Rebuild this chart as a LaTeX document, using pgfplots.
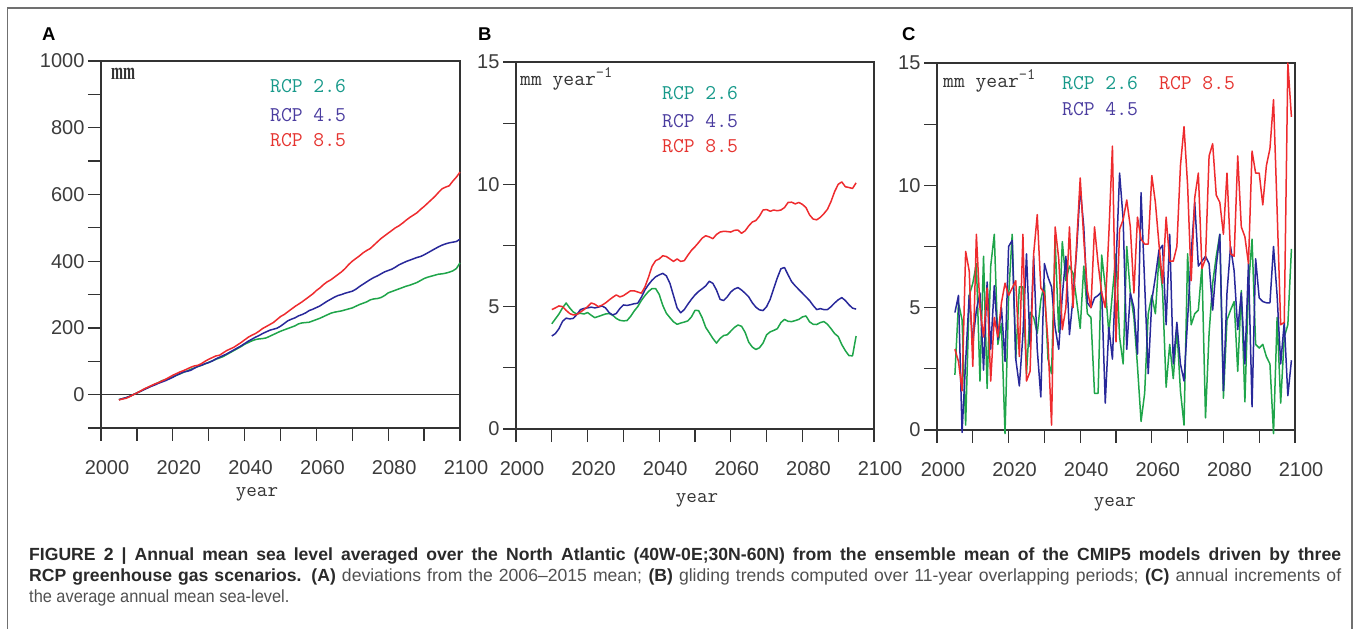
\documentclass[border=0pt]{standalone}
\usepackage{fontspec}
\setmainfont{Liberation Sans}
\newfontfamily\serifmm{Liberation Serif}
\usepackage{pgfplots}
\pgfplotsset{compat=1.18}

\definecolor{cgreen}{HTML}{1FA54A}
\definecolor{cblue}{HTML}{28289A}
\definecolor{cred}{HTML}{EE2B2E}
\definecolor{tgreen}{HTML}{17998A}
\definecolor{tblue}{HTML}{4A3C9F}
\definecolor{tred}{HTML}{E5332F}
\definecolor{axgray}{HTML}{333333}
\definecolor{tickgray}{HTML}{3C3C3C}
\definecolor{framegray}{HTML}{707070}
\definecolor{capbold}{HTML}{2A2A2A}
\definecolor{capreg}{HTML}{505050}

% monospaced labels, a little heavier than plain Latin Modern Mono
\newcommand{\monolab}[1]{\ttfamily\fontsize{#1}{#1}\selectfont\addfontfeatures{FakeBold=0.7}}

\pgfplotsset{
  panel/.style={
    scale only axis, width=358pt, height=367pt, anchor=south west,
    xmin=2000, xmax=2100,
    xtick={2000,2020,...,2100}, minor xtick={2010,2030,...,2090},
    tick align=outside, xtick pos=bottom, ytick pos=left,
    major tick length=13pt, minor tick length=13pt,
    every tick/.style={draw=axgray, line width=1.3pt},
    axis line style={draw=axgray, line width=1.3pt},
    ticklabel style={font=\fontsize{20}{20}\selectfont, text=tickgray},
    /pgf/number format/assume math mode=true,
    /pgf/number format/1000 sep={},
    xticklabel style={xshift=6pt, yshift=-16pt},
    xlabel={year},
    xlabel style={font=\monolab{20.5}, text=axgray, anchor=base},
    clip=false,
    every axis plot/.append style={line width=1.5pt, line join=round},
  },
}
\tikzset{rcp/.style={anchor=base west, inner sep=0pt, font=\monolab{21}}}
\newcommand{\perYear}{mm year\raisebox{8pt}{\fontsize{16}{16}\selectfont -1}}

\begin{document}
\begin{tikzpicture}
\useasboundingbox (0pt,0pt) rectangle (1358pt,629pt);
\draw[framegray, line width=1.2pt] (7.5pt,-2pt) -- (7.5pt,621pt) -- (1352pt,621pt) -- (1352pt,-2pt);

% ---------------- A: sea level deviation
\begin{axis}[panel, at={(101pt,201pt)}, width=359pt,
    ymin=-100, ymax=1000,
    ytick={0,200,...,1000}, minor ytick={-100,100,...,900},
    xlabel style={at={(axis description cs:0.4345,-0.188)}}]
\addplot[axgray, line width=1.1pt] coordinates {(2000,0) (2100,0)};
\addplot[cgreen] coordinates {
(2005,-15)(2006,-12)(2007,-9)(2008,-5)(2009,0)(2010,5)(2011,10)(2012,16)(2013,21)(2014,26)
(2015,31)(2016,36)(2017,42)(2018,45)(2019,49)(2020,53)(2021,58)(2022,62)(2023,67)(2024,71)
(2025,76)(2026,80)(2027,84)(2028,88)(2029,92)(2030,97)(2031,101)(2032,106)(2033,110)(2034,114)
(2035,120)(2036,126)(2037,132)(2038,138)(2039,144)(2040,151)(2041,156)(2042,161)(2043,165)(2044,167)
(2045,168)(2046,170)(2047,175)(2048,180)(2049,185)(2050,190)(2051,194)(2052,198)(2053,202)(2054,206)
(2055,212)(2056,215)(2057,216)(2058,217)(2059,221)(2060,225)(2061,229)(2062,234)(2063,239)(2064,244)
(2065,247)(2066,249)(2067,251)(2068,254)(2069,257)(2070,260)(2071,265)(2072,270)(2073,274)(2074,278)
(2075,284)(2076,287)(2077,288)(2078,291)(2079,297)(2080,305)(2081,309)(2082,313)(2083,317)(2084,321)
(2085,325)(2086,328)(2087,332)(2088,336)(2089,342)(2090,348)(2091,352)(2092,355)(2093,358)(2094,361)
(2095,362)(2096,364)(2097,367)(2098,371)(2099,378)(2100,395)};
\addplot[cblue] coordinates {
(2005,-15)(2006,-12)(2007,-9)(2008,-5)(2009,0)(2010,5)(2011,10)(2012,15)(2013,20)(2014,25)
(2015,29)(2016,34)(2017,38)(2018,42)(2019,47)(2020,52)(2021,58)(2022,63)(2023,68)(2024,70)
(2025,73)(2026,79)(2027,85)(2028,88)(2029,93)(2030,96)(2031,101)(2032,107)(2033,112)(2034,117)
(2035,122)(2036,128)(2037,134)(2038,140)(2039,146)(2040,153)(2041,160)(2042,166)(2043,172)(2044,177)
(2045,183)(2046,188)(2047,193)(2048,196)(2049,199)(2050,205)(2051,213)(2052,221)(2053,226)(2054,230)
(2055,236)(2056,240)(2057,245)(2058,252)(2059,256)(2060,261)(2061,266)(2062,273)(2063,280)(2064,286)
(2065,292)(2066,297)(2067,300)(2068,304)(2069,307)(2070,310)(2071,316)(2072,324)(2073,331)(2074,338)
(2075,345)(2076,351)(2077,356)(2078,362)(2079,368)(2080,372)(2081,376)(2082,382)(2083,389)(2084,394)
(2085,399)(2086,403)(2087,407)(2088,411)(2089,414)(2090,419)(2091,425)(2092,431)(2093,437)(2094,443)
(2095,448)(2096,452)(2097,455)(2098,457)(2099,459)(2100,466)};
\addplot[cred] coordinates {
(2005,-16)(2006,-13)(2007,-11)(2008,-6)(2009,0)(2010,5)(2011,11)(2012,17)(2013,22)(2014,27)
(2015,32)(2016,36)(2017,41)(2018,46)(2019,52)(2020,58)(2021,63)(2022,68)(2023,72)(2024,77)
(2025,82)(2026,86)(2027,88)(2028,93)(2029,100)(2030,106)(2031,111)(2032,116)(2033,118)(2034,125)
(2035,132)(2036,137)(2037,142)(2038,149)(2039,156)(2040,164)(2041,172)(2042,178)(2043,183)(2044,190)
(2045,198)(2046,204)(2047,210)(2048,216)(2049,225)(2050,234)(2051,240)(2052,248)(2053,256)(2054,264)
(2055,271)(2056,278)(2057,286)(2058,294)(2059,302)(2060,312)(2061,320)(2062,330)(2063,338)(2064,344)
(2065,352)(2066,360)(2067,368)(2068,378)(2069,390)(2070,400)(2071,408)(2072,416)(2073,425)(2074,432)
(2075,438)(2076,448)(2077,458)(2078,468)(2079,476)(2080,484)(2081,492)(2082,500)(2083,506)(2084,514)
(2085,523)(2086,531)(2087,538)(2088,545)(2089,555)(2090,564)(2091,574)(2092,584)(2093,594)(2094,606)
(2095,617)(2096,622)(2097,626)(2098,640)(2099,652)(2100,667)};
\end{axis}

% ---------------- B: gliding trends
\begin{axis}[panel, at={(516pt,200pt)},
    ymin=0, ymax=15,
    ytick={0,5,10,15}, minor ytick={2.5,7.5,12.5},
    xlabel style={at={(axis description cs:0.5056,-0.2016)}}]
\addplot[cgreen] coordinates {
(2010,4.30)(2011,4.50)(2012,4.70)(2013,4.95)(2014,5.15)(2015,4.95)(2016,4.78)(2017,4.70)(2018,4.73)(2019,4.70)
(2020,4.76)(2021,4.65)(2022,4.55)(2023,4.60)(2024,4.65)(2025,4.70)(2026,4.72)(2027,4.65)(2028,4.52)(2029,4.44)
(2030,4.42)(2031,4.43)(2032,4.60)(2033,4.82)(2034,5.00)(2035,5.25)(2036,5.45)(2037,5.62)(2038,5.74)(2039,5.74)
(2040,5.50)(2041,5.05)(2042,4.73)(2043,4.55)(2044,4.38)(2045,4.28)(2046,4.33)(2047,4.37)(2048,4.42)(2049,4.58)
(2050,4.85)(2051,4.84)(2052,4.55)(2053,4.15)(2054,3.93)(2055,3.70)(2056,3.51)(2057,3.70)(2058,3.82)(2059,3.85)
(2060,4.00)(2061,4.15)(2062,4.25)(2063,4.20)(2064,3.95)(2065,3.55)(2066,3.35)(2067,3.25)(2068,3.32)(2069,3.51)
(2070,3.85)(2071,3.97)(2072,4.03)(2073,4.10)(2074,4.35)(2075,4.48)(2076,4.40)(2077,4.39)(2078,4.43)(2079,4.48)
(2080,4.58)(2081,4.62)(2082,4.38)(2083,4.28)(2084,4.27)(2085,4.35)(2086,4.39)(2087,4.28)(2088,4.10)(2089,3.90)
(2090,3.78)(2091,3.45)(2092,3.20)(2093,3.00)(2094,2.99)(2095,3.80)};
\addplot[cblue] coordinates {
(2010,3.80)(2011,3.90)(2012,4.10)(2013,4.40)(2014,4.53)(2015,4.50)(2016,4.52)(2017,4.68)(2018,4.88)(2019,4.93)
(2020,4.95)(2021,4.98)(2022,4.95)(2023,4.98)(2024,5.03)(2025,4.95)(2026,4.76)(2027,4.66)(2028,4.72)(2029,4.92)
(2030,5.07)(2031,5.05)(2032,5.08)(2033,5.12)(2034,5.14)(2035,5.38)(2036,5.68)(2037,5.90)(2038,6.08)(2039,6.22)
(2040,6.30)(2041,6.36)(2042,6.26)(2043,5.95)(2044,5.45)(2045,4.95)(2046,4.75)(2047,4.88)(2048,5.10)(2049,5.30)
(2050,5.48)(2051,5.62)(2052,5.73)(2053,5.85)(2054,6.04)(2055,5.95)(2056,5.68)(2057,5.30)(2058,5.25)(2059,5.40)
(2060,5.60)(2061,5.72)(2062,5.78)(2063,5.68)(2064,5.55)(2065,5.40)(2066,5.16)(2067,4.98)(2068,4.87)(2069,4.84)
(2070,5.00)(2071,5.30)(2072,5.75)(2073,6.18)(2074,6.55)(2075,6.60)(2076,6.30)(2077,6.02)(2078,5.85)(2079,5.70)
(2080,5.55)(2081,5.40)(2082,5.25)(2083,5.05)(2084,4.88)(2085,4.92)(2086,4.88)(2087,4.88)(2088,5.00)(2089,5.15)
(2090,5.28)(2091,5.37)(2092,5.25)(2093,5.08)(2094,4.94)(2095,4.90)};
\addplot[cred] coordinates {
(2010,4.88)(2011,4.95)(2012,5.03)(2013,5.00)(2014,4.85)(2015,4.72)(2016,4.66)(2017,4.68)(2018,4.78)(2019,4.88)
(2020,5.00)(2021,5.15)(2022,5.10)(2023,5.00)(2024,5.06)(2025,5.15)(2026,5.27)(2027,5.38)(2028,5.48)(2029,5.40)
(2030,5.45)(2031,5.55)(2032,5.65)(2033,5.65)(2034,5.60)(2035,5.55)(2036,5.80)(2037,6.20)(2038,6.65)(2039,6.88)
(2040,6.95)(2041,7.08)(2042,7.05)(2043,6.95)(2044,6.85)(2045,6.95)(2046,6.85)(2047,6.88)(2048,7.10)(2049,7.30)
(2050,7.45)(2051,7.62)(2052,7.80)(2053,7.90)(2054,7.85)(2055,7.78)(2056,7.95)(2057,8.05)(2058,8.08)(2059,8.07)
(2060,8.05)(2061,8.12)(2062,8.13)(2063,8.00)(2064,8.10)(2065,8.30)(2066,8.46)(2067,8.52)(2068,8.70)(2069,8.95)
(2070,8.97)(2071,8.90)(2072,8.95)(2073,8.92)(2074,8.95)(2075,9.05)(2076,9.26)(2077,9.27)(2078,9.20)(2079,9.26)
(2080,9.18)(2081,9.05)(2082,8.75)(2083,8.58)(2084,8.55)(2085,8.65)(2086,8.80)(2087,8.98)(2088,9.30)(2089,9.70)
(2090,10.00)(2091,10.10)(2092,9.90)(2093,9.87)(2094,9.83)(2095,10.06)};
\end{axis}

% ---------------- C: annual increments
\begin{axis}[panel, at={(937pt,199pt)},
    ymin=0, ymax=15,
    ytick={0,5,10,15}, minor ytick={2.5,7.5,12.5},
    xlabel style={at={(axis description cs:0.497,-0.2098)}}]
\addplot[cgreen] coordinates {
(2005,2.25)(2006,5.2)(2007,4.5)(2008,0.2)(2009,5.5)(2010,6.0)(2011,6.8)(2012,2.0)(2013,7.1)(2014,1.7)
(2015,6.7)(2016,8.0)(2017,3.5)(2018,4.35)(2019,-0.15)(2020,5.45)(2021,8.0)(2022,2.9)(2023,5.85)(2024,5.85)
(2025,2.3)(2026,4.8)(2027,4.6)(2028,3.95)(2029,5.3)(2030,6.0)(2031,2.9)(2032,2.3)(2033,7.75)(2034,4.0)
(2035,7.7)(2036,6.1)(2037,6.7)(2038,6.4)(2039,5.3)(2040,4.15)(2041,6.7)(2042,4.75)(2043,4.6)(2044,1.5)
(2045,1.5)(2046,7.15)(2047,5.85)(2048,3.95)(2049,5.6)(2050,7.2)(2051,3.8)(2052,2.7)(2053,7.5)(2054,5.6)
(2055,4.6)(2056,2.6)(2057,0.35)(2058,1.5)(2059,4.75)(2060,5.5)(2061,4.75)(2062,7.1)(2063,5.7)(2064,1.75)
(2065,3.5)(2066,2.1)(2067,4.15)(2068,1.6)(2069,0.2)(2070,7.2)(2071,4.3)(2072,4.75)(2073,4.9)(2074,6.7)
(2075,0.5)(2076,3.95)(2077,6.0)(2078,7.1)(2079,8.0)(2080,1.3)(2081,4.5)(2082,4.9)(2083,5.25)(2084,2.4)
(2085,5.7)(2086,1.15)(2087,5.85)(2088,7.8)(2089,3.5)(2090,3.35)(2091,3.5)(2092,3.0)(2093,2.7)(2094,-0.15)
(2095,4.6)(2096,1.1)(2097,3.8)(2098,4.3)(2099,7.4)};
\addplot[cblue] coordinates {
(2005,4.8)(2006,5.5)(2007,-0.1)(2008,2.8)(2009,5.5)(2010,3.6)(2011,4.9)(2012,5.6)(2013,2.45)(2014,6.05)
(2015,3.3)(2016,5.9)(2017,3.7)(2018,5.0)(2019,2.8)(2020,7.5)(2021,7.75)(2022,2.9)(2023,1.8)(2024,3.9)
(2025,7.2)(2026,3.4)(2027,7.1)(2028,3.3)(2029,1.35)(2030,6.8)(2031,6.25)(2032,5.85)(2033,4.2)(2034,3.3)
(2035,5.5)(2036,7.1)(2037,3.9)(2038,5.4)(2039,7.35)(2040,9.9)(2041,8.3)(2042,5.2)(2043,5.0)(2044,5.4)
(2045,5.5)(2046,5.65)(2047,1.1)(2048,4.2)(2049,2.9)(2050,6.7)(2051,10.5)(2052,8.6)(2053,3.3)(2054,5.6)
(2055,5.0)(2056,3.1)(2057,9.7)(2058,6.0)(2059,2.3)(2060,5.3)(2061,6.25)(2062,7.35)(2063,7.55)(2064,4.3)
(2065,8.0)(2066,2.7)(2067,4.4)(2068,2.7)(2069,2.0)(2070,4.5)(2071,7.2)(2072,9.3)(2073,6.7)(2074,6.9)
(2075,7.1)(2076,6.8)(2077,4.9)(2078,6.7)(2079,8.0)(2080,1.6)(2081,5.6)(2082,7.5)(2083,6.5)(2084,4.1)
(2085,5.6)(2086,2.7)(2087,6.8)(2088,0.95)(2089,7.0)(2090,5.4)(2091,5.25)(2092,5.2)(2093,5.2)(2094,7.5)
(2095,5.5)(2096,2.7)(2097,4.4)(2098,1.4)(2099,2.85)};
\addplot[cred] coordinates {
(2005,3.3)(2006,2.8)(2007,1.6)(2008,7.3)(2009,6.5)(2010,2.6)(2011,8.0)(2012,5.0)(2013,3.8)(2014,5.8)
(2015,2.0)(2016,4.6)(2017,3.8)(2018,5.2)(2019,6.0)(2020,5.5)(2021,5.8)(2022,6.1)(2023,3.0)(2024,8.0)
(2025,2.0)(2026,2.4)(2027,7.2)(2028,8.8)(2029,5.8)(2030,5.6)(2031,3.6)(2032,0.2)(2033,8.3)(2034,7.0)
(2035,4.1)(2036,5.0)(2037,8.3)(2038,5.0)(2039,7.6)(2040,10.3)(2041,7.8)(2042,5.7)(2043,5.0)(2044,8.3)
(2045,6.8)(2046,5.6)(2047,5.0)(2048,8.0)(2049,11.6)(2050,3.6)(2051,8.2)(2052,8.6)(2053,9.4)(2054,8.3)
(2055,5.6)(2056,8.7)(2057,7.8)(2058,7.6)(2059,7.6)(2060,10.4)(2061,9.3)(2062,7.6)(2063,6.0)(2064,8.7)
(2065,6.9)(2066,6.9)(2067,7.5)(2068,10.8)(2069,12.4)(2070,10.0)(2071,6.1)(2072,9.5)(2073,10.5)(2074,6.6)
(2075,7.0)(2076,11.2)(2077,11.7)(2078,9.6)(2079,9.3)(2080,8.0)(2081,10.5)(2082,7.2)(2083,7.1)(2084,11.2)
(2085,8.3)(2086,7.9)(2087,6.8)(2088,11.4)(2089,10.5)(2090,10.5)(2091,9.2)(2092,10.8)(2093,11.5)(2094,13.5)
(2095,9.0)(2096,4.3)(2097,4.4)(2098,15.0)(2099,12.8)};
\end{axis}

% ---------------- panel letters, units and series names
\begin{scope}[every node/.style={anchor=base west, inner sep=0pt}]
\node[font=\bfseries\fontsize{18.5}{18.5}\selectfont] at (42pt,588pt) {A};
\node[font=\bfseries\fontsize{18.5}{18.5}\selectfont] at (478pt,588pt) {B};
\node[font=\bfseries\fontsize{18.5}{18.5}\selectfont] at (902pt,588pt) {C};

\node[text=axgray] at (111pt,549pt) {\scalebox{0.6}[1]{\serifmm\bfseries\fontsize{24}{24}\selectfont mm}};
\node[text=axgray, font=\monolab{21}] at (520pt,543pt) {\perYear};
\node[text=axgray, font=\monolab{21}] at (943pt,541pt) {\perYear};
\end{scope}

\node[rcp, text=tgreen] at (270pt,536pt) {RCP 2.6};
\node[rcp, text=tblue]  at (270pt,507pt) {RCP 4.5};
\node[rcp, text=tred]   at (270pt,482pt) {RCP 8.5};

\node[rcp, text=tgreen] at (662pt,529pt) {RCP 2.6};
\node[rcp, text=tblue]  at (662pt,501pt) {RCP 4.5};
\node[rcp, text=tred]   at (662pt,476pt) {RCP 8.5};

\node[rcp, text=tgreen] at (1062pt,539pt) {RCP 2.6};
\node[rcp, text=tred]   at (1159pt,539pt) {RCP 8.5};
\node[rcp, text=tblue]  at (1062pt,513pt) {RCP 4.5};

% ---------------- caption
\begin{scope}[every node/.style={anchor=base west, inner sep=0pt, font=\fontsize{17.6}{17.6}\selectfont}]
\node at (29pt,68pt) {\makebox[1312pt][s]{\color{capbold}\bfseries FIGURE 2 | Annual mean sea level averaged over the North Atlantic (40W-0E;30N-60N) from the ensemble mean of the CMIP5 models driven by three}};
\node at (29pt,47pt) {\makebox[1312pt][s]{{\color{capbold}\bfseries RCP greenhouse gas scenarios. (A)} {\color{capreg}deviations from the 2006–2015 mean;} {\color{capbold}\bfseries (B)} {\color{capreg}gliding trends computed over 11-year overlapping periods;} {\color{capbold}\bfseries (C)} {\color{capreg}annual increments of}}};
\node[text=capreg] at (29pt,26pt) {\scalebox{0.93}[1]{the average annual mean sea-level.}};
\end{scope}
\end{tikzpicture}
\end{document}
